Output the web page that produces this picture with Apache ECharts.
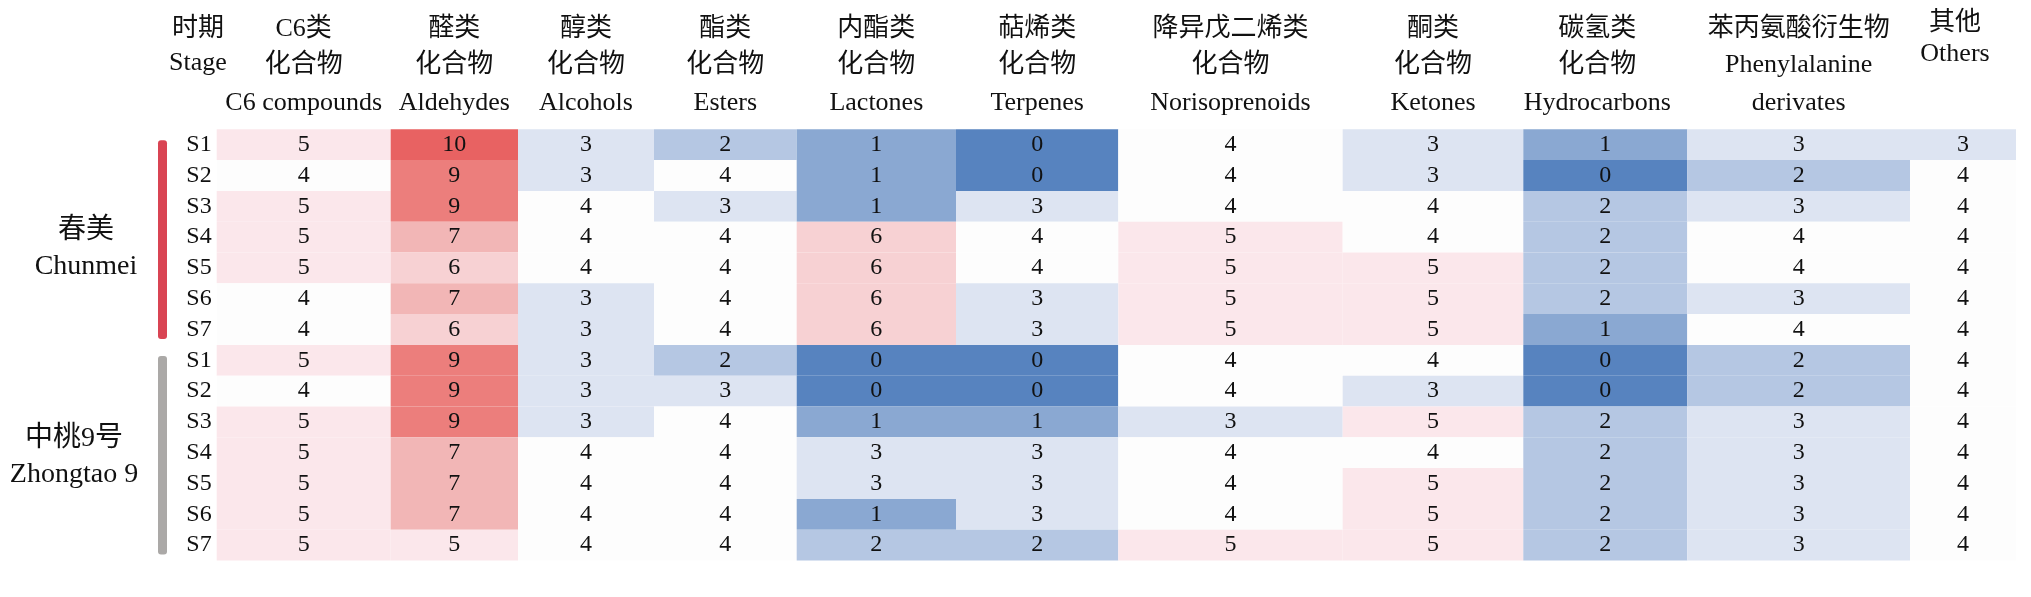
<!DOCTYPE html>
<html>
<head>
<meta charset="utf-8">
<title>heatmap</title>
<script src="https://cdn.jsdelivr.net/npm/echarts@6/dist/echarts.min.js"></script>
<style>
html,body{margin:0;padding:0;background:#fff;}
#main{width:2031px;height:597px;}
</style>
</head>
<body>
<div id="main"></div>
<script>
// 化合物类别 (列)
var classNames = ['C6类化合物','醛类化合物','醇类化合物','酯类化合物','内酯类化合物','萜烯类化合物',
	'降异戊二烯类化合物','酮类化合物','碳氢类化合物','苯丙氨酸衍生物','其他'];
// 表头文字 (每列的行)
var headTexts = [
	['C6类','化合物','C6 compounds'],
	['醛类','化合物','Aldehydes'],
	['醇类','化合物','Alcohols'],
	['酯类','化合物','Esters'],
	['内酯类','化合物','Lactones'],
	['萜烯类','化合物','Terpenes'],
	['降异戊二烯类','化合物','Norisoprenoids'],
	['酮类','化合物','Ketones'],
	['碳氢类','化合物','Hydrocarbons'],
	['苯丙氨酸衍生物','Phenylalanine','derivates'],
	['其他','Others']
];
var stages = ['S1','S2','S3','S4','S5','S6','S7'];
var groups = [['春美','Chunmei'],['中桃9号','Zhongtao 9']];

// 春美 S1..S7
var chunmei = [
	[5,10,3,2,1,0,4,3,1,3,3],
	[4,9,3,4,1,0,4,3,0,2,4],
	[5,9,4,3,1,3,4,4,2,3,4],
	[5,7,4,4,6,4,5,4,2,4,4],
	[5,6,4,4,6,4,5,5,2,4,4],
	[4,7,3,4,6,3,5,5,2,3,4],
	[4,6,3,4,6,3,5,5,1,4,4]
];
// 中桃9号 S1..S7
var zhongtao = [
	[5,9,3,2,0,0,4,4,0,2,4],
	[4,9,3,3,0,0,4,3,0,2,4],
	[5,9,3,4,1,1,3,5,2,3,4],
	[5,7,4,4,3,3,4,4,2,3,4],
	[5,7,4,4,3,3,4,5,2,3,4],
	[5,7,4,4,1,3,4,5,2,3,4],
	[5,5,4,4,2,2,5,5,2,3,4]
];

// 列宽 (版式)
var colWidths = [174,127.3,136,142.7,159.3,162.3,224.4,180.6,164,222.7,106];
var headShift = [0,0,0,0,0,0,0,0,-8,0,-8];
var colEdges = [0];
for(var i=0;i<colWidths.length;i++){
	colEdges.push(colEdges[i]+colWidths[i]);
}
var rowLabels = stages.concat(stages);
var allRows = chunmei.concat(zhongtao);
var cells = [];
for(var r=0;r<allRows.length;r++){
	for(var c=0;c<allRows[r].length;c++){
		cells.push([c, r, allRows[r][c]]);
	}
}

var serif = '"Liberation Serif","Times New Roman","Noto Sans CJK SC"';
var gridTop = 129.3, gridH = 431.2;
var chart = echarts.init(document.getElementById('main'));

var option = {
	backgroundColor:'#ffffff',
	animation:false,
	grid:{
		left:216.7,
		top:gridTop,
		width:1799.3,
		height:gridH
	},
	xAxis:{
		type:'value',
		min:0,
		max:colEdges[colEdges.length-1],
		show:false
	},
	yAxis:{
		type:'category',
		data:rowLabels,
		inverse:true,
		axisLine:{show:false},
		axisTick:{show:false},
		splitLine:{show:false},
		axisLabel:{
			interval:0,
			margin:5,
			fontFamily:serif,
			fontSize:24,
			color:'#111'
		}
	},
	visualMap:{
		type:'piecewise',
		show:false,
		dimension:2,
		seriesIndex:0,
		pieces:[
			{value:0,color:'#5783bf'},
			{value:1,color:'#8aa8d2'},
			{value:2,color:'#b5c7e3'},
			{value:3,color:'#dde4f2'},
			{value:4,color:'#fdfdfd'},
			{value:5,color:'#fbe7eb'},
			{value:6,color:'#f7d1d3'},
			{value:7,color:'#f2b6b6'},
			{value:8,color:'#ef9a99'},
			{value:9,color:'#ec7e7c'},
			{value:10,color:'#e86262'}
		]
	},
	series:[{
		type:'custom',
		data:cells,
		renderItem:function(params, api){
			var c = api.value(0), r = api.value(1), v = api.value(2);
			var p0 = api.coord([colEdges[c], r]);
			var p1 = api.coord([colEdges[c+1], r]);
			var h = api.size([0,1])[1];
			return {
				type:'group',
				children:[
					{
						type:'rect',
						shape:{x:p0[0], y:p0[1]-h/2, width:p1[0]-p0[0], height:h},
						style:{fill:api.visual('color')}
					},
					{
						type:'text',
						style:{
							text:String(v),
							x:(p0[0]+p1[0])/2,
							y:p0[1],
							align:'center',
							verticalAlign:'middle',
							font:'24px '+serif,
							fill:'#111'
						}
					}
				]
			};
		}
	}]
};
chart.setOption(option);

// 表头与分组标注
var gfx = [];
var lineY = [29,65,103];
function addText(txt,x,y,size){
	gfx.push({
		type:'text',
		x:x, y:y,
		style:{
			text:txt, x:0, y:0,
			align:'center', verticalAlign:'middle',
			font:size+'px '+serif, fill:'#111'
		}
	});
}
addText('时期',198,29,26);
addText('Stage',198,63,26);
for(var k=0;k<headTexts.length;k++){
	var mid = (colEdges[k]+colEdges[k+1])/2;
	var cx = chart.convertToPixel({gridIndex:0}, [mid, 0])[0] + headShift[k];
	for(var j=0;j<headTexts[k].length;j++){
		var yy = lineY[j];
		if(headTexts[k].length==2){
			yy = j==0 ? 23 : 54;
		}
		addText(headTexts[k][j],cx,yy,26);
	}
}
var band = gridH/rowLabels.length;
var barColors = ['#d94453','#aba9a7'];
var labelX = [86,74];
var labelDy = [12,4];
for(var g=0;g<groups.length;g++){
	var gTop = gridTop + g*stages.length*band;
	var gBottom = gTop + stages.length*band;
	gfx.push({
		type:'rect',
		shape:{x:158, y:gTop+11, width:9, height:(gBottom-6)-(gTop+11), r:3},
		style:{fill:barColors[g]}
	});
	var midY = (gTop+gBottom)/2 + labelDy[g];
	addText(groups[g][0],labelX[g],midY-18,28);
	addText(groups[g][1],labelX[g],midY+18,28);
}
chart.setOption({graphic:{elements:gfx}});
</script>
</body>
</html>
